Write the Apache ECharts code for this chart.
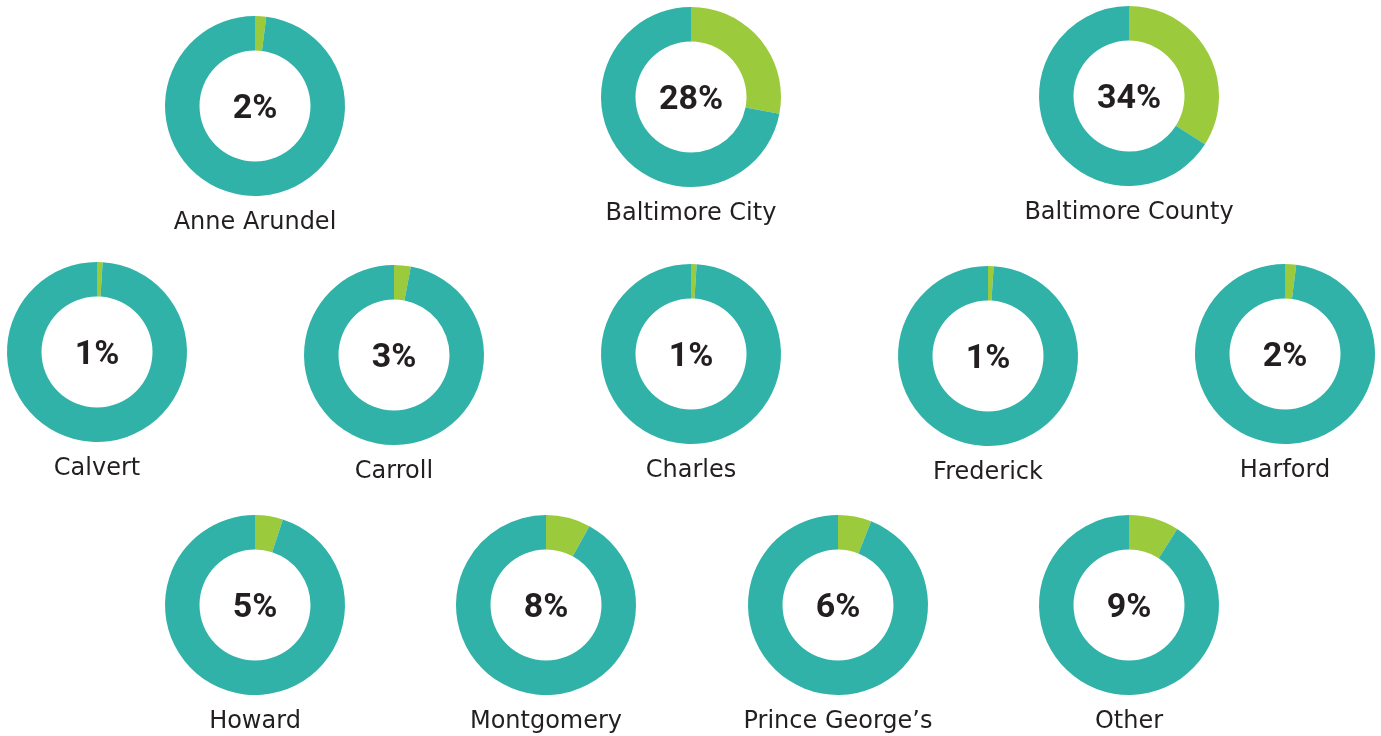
<!DOCTYPE html>
<html style="height: 100%">
    <head>
        <meta charset="utf-8">
        <style type="text/css">
            body, html {width: 100%; height: 100%; margin: 0; background: #fff; overflow: hidden;}
            #display {width: 1381px; height: 736px;}
        </style>
    </head>
    <body>
        <div id="display"></div>
    </body>
    <script type="text/javascript" src="https://cdn.jsdelivr.net/npm/echarts@6/dist/echarts.min.js"></script>
    <script type="text/javascript">
	// county names and share (%) shown in each ring
	var countyNames = ['Anne Arundel', 'Baltimore City', 'Baltimore County',
		'Calvert', 'Carroll', 'Charles', 'Frederick', 'Harford',
		'Howard', 'Montgomery', 'Prince George\u2019s', 'Other'];
	var shareValues = [2, 28, 34, 1, 3, 1, 1, 2, 5, 8, 6, 9];

	// where each ring sits (px)
	var centers = [[255, 106], [691, 97], [1129, 96],
		[97, 352], [394, 355], [691, 354], [988, 356], [1285, 354],
		[255, 605], [546, 605], [838, 605], [1129, 605]];

	var green = '#9bca3c';
	var teal = '#30b2a8';
	var textColor = '#231f20';

	var chart = echarts.init(document.getElementById('display'));

	var series = [];
	var graphics = [];
	for (var i = 0; i < countyNames.length; i++) {
		var v = shareValues[i];
		series.push({
			type: 'pie',
			silent: true,
			animation: false,
			center: centers[i],
			radius: [55.5, 90],
			startAngle: 90,
			clockwise: true,
			avoidLabelOverlap: false,
			labelLine: {show: false},
			label: {show: false},
			data: [
				{value: v, name: countyNames[i], itemStyle: {color: green},
					label: {
						show: true,
						position: 'center',
						formatter: '{c}%',
						offset: [0, 3],
						color: textColor,
						fontFamily: 'Roboto',
						fontWeight: 'bold',
						fontSize: 34
					}},
				{value: 100 - v, name: 'rest', itemStyle: {color: teal}}
			]
		});
		graphics.push({
			type: 'text',
			x: centers[i][0],
			y: centers[i][1] + 117,
			silent: true,
			style: {
				text: countyNames[i],
				fill: textColor,
				font: '24px "DejaVu Sans"',
				textAlign: 'center',
				textVerticalAlign: 'middle'
			}
		});
	}

	var option = {
		backgroundColor: '#ffffff',
		animation: false,
		series: series,
		graphic: graphics
	};
	chart.setOption(option);
    </script>
</html>
